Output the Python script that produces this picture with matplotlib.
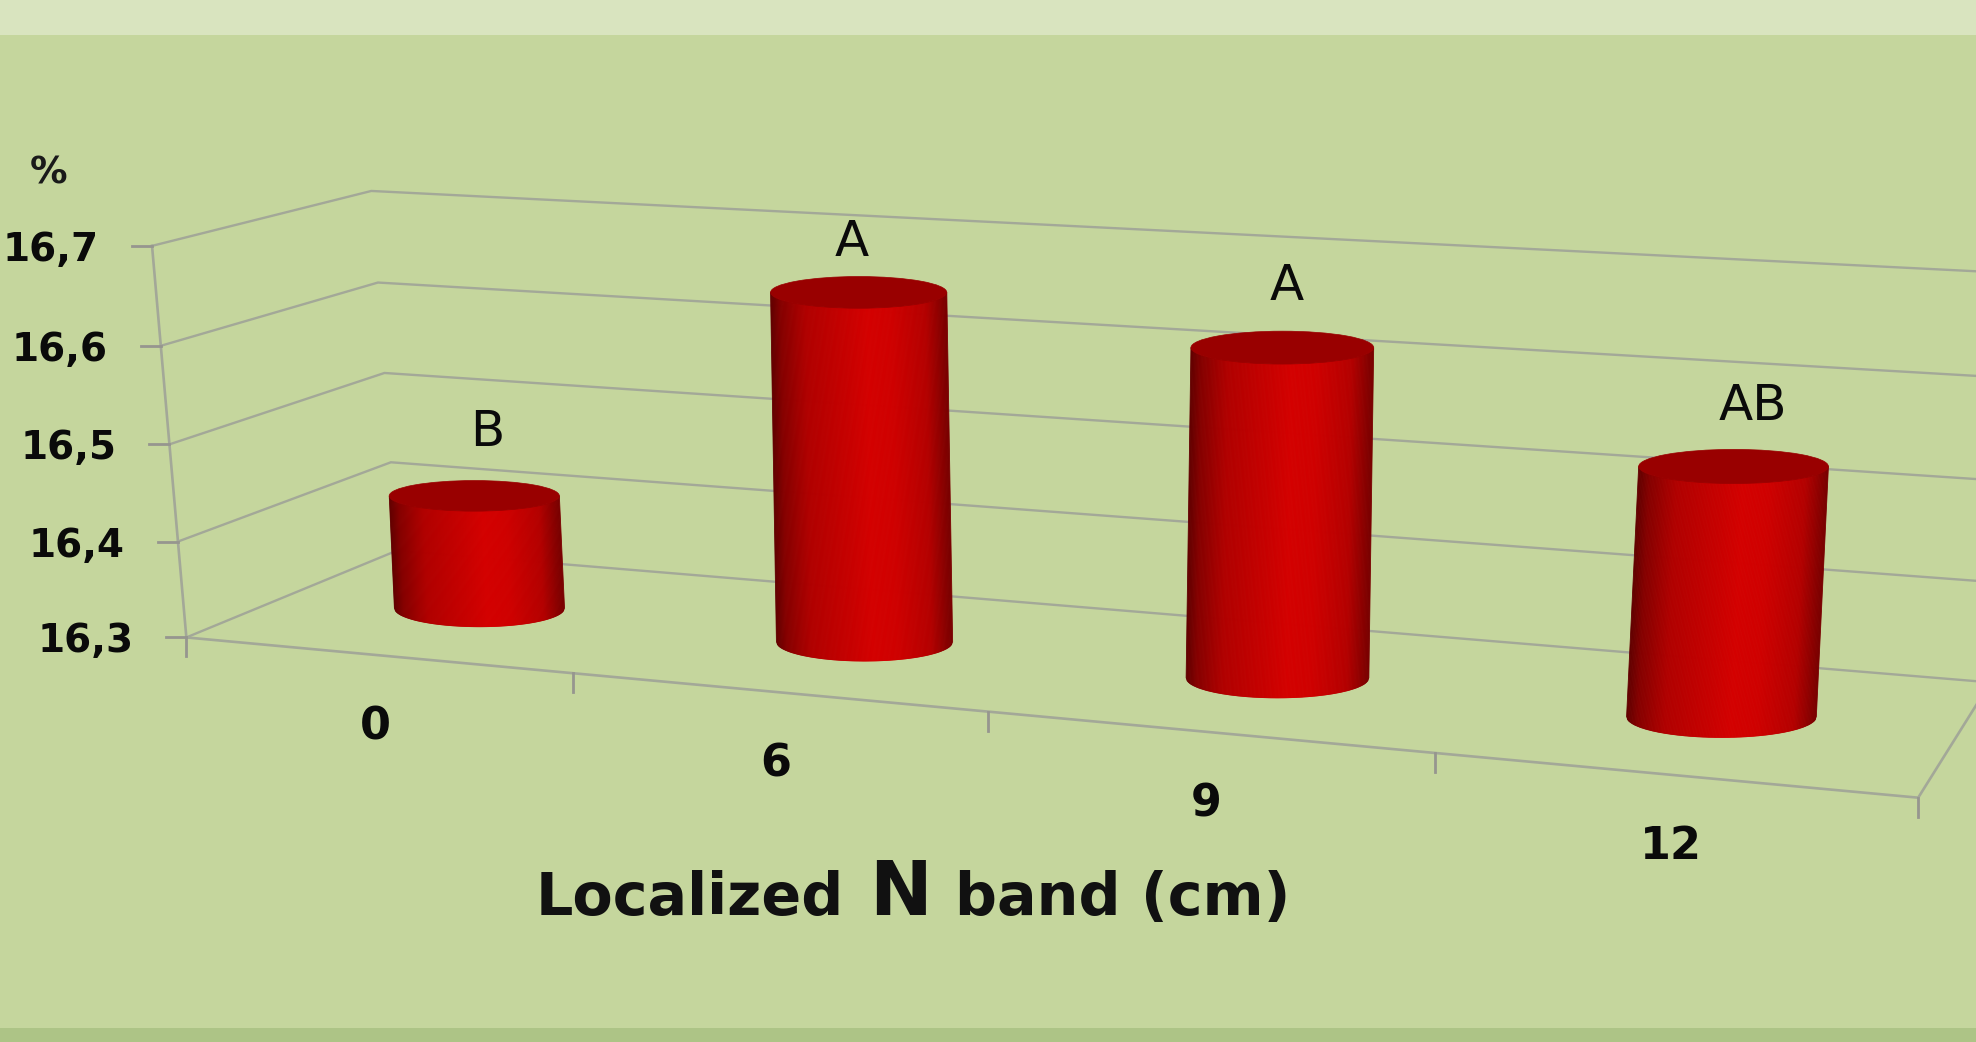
#!/usr/bin/python
# -*- coding:utf-8 -*-
"""
3D style cylinder chart: protein content against localized N band width.
"""

import numpy as np
import matplotlib
matplotlib.use('Agg')
import matplotlib.pyplot as plt
from matplotlib.collections import PolyCollection
from matplotlib.patches import Ellipse

# data
categories = ['0', '6', '9', '12']
values = [16.42, 16.656, 16.626, 16.54]
letters = ['B', 'A', 'A', 'AB']
ytick_values = [16.3, 16.4, 16.5, 16.6, 16.7]
ytick_labels = ['16,3', '16,4', '16,5', '16,6', '16,7']

BG = '#c5d69d'
TOP_BAND = '#d9e4bf'
BOTTOM_BAND = '#adc486'
GRID = '#a3a898'
TICK = '#96968f'

# frame calibration: (category pos, depth, value) -> pixel
frame = [
    (0, 0, 16.3, 184, 637), (0, 0, 16.4, 176, 545), (0, 0, 16.5, 170, 446),
    (0, 0, 16.6, 163, 344), (0, 0, 16.7, 155, 246),
    (0, 1, 16.3, 400, 550), (0, 1, 16.4, 393, 461), (0, 1, 16.5, 385, 373),
    (0, 1, 16.6, 378, 282), (0, 1, 16.7, 366, 191),
    (1, 0, 16.3, 570, 673), (2, 0, 16.3, 987, 711), (3, 0, 16.3, 1437, 752),
    (4, 0, 16.3, 1918, 796),
    (4, 1, 16.3, 1990, 685), (4, 1, 16.4, 1994, 582), (4, 1, 16.5, 1999, 480),
    (4, 1, 16.6, 2003, 377), (4, 1, 16.7, 2008, 274),
]

rows = []
for s, d, v, px, py in frame:
    w = np.array([s, d, v - 16.3, 1.0])
    rows.append(np.concatenate([w, np.zeros(4), -px * w]))
    rows.append(np.concatenate([np.zeros(4), w, -py * w]))
P = np.linalg.svd(np.array(rows))[2][-1].reshape(3, 4)


def project(s, d, v):
    p = P @ np.array([s, d, v - 16.3, 1.0])
    return p[0] / p[2], p[1] / p[2]


fig = plt.figure(figsize=(19.76, 10.42), dpi=100, facecolor=BG)
ax = fig.add_axes([0, 0, 1, 1])
ax.set_xlim(0, 1976)
ax.set_ylim(1042, 0)
ax.axis('off')
ax.axhspan(0, 35, color=TOP_BAND, lw=0)
ax.axhspan(1028, 1042, color=BOTTOM_BAND, lw=0)

# walls
for v in ytick_values:
    pts = [project(0, 0, v), project(0, 1, v), project(4, 1, v)]
    ax.plot(*zip(*pts), color=GRID, lw=1.7, solid_joinstyle='miter', zorder=1)

# floor edges and left axis
ax.plot(*zip(project(0, 0, 16.3), project(4, 0, 16.3), project(4, 1, 16.3)), color=GRID, lw=1.9, zorder=1)
ax.plot(*zip(project(0, 0, 16.3), project(0, 0, 16.7)), color=GRID, lw=1.9, zorder=1)

for v, label in zip(ytick_values, ytick_labels):
    x, y = project(0, 0, v)
    ax.plot([x - 20, x], [y, y], color=TICK, lw=2, zorder=1)
    ax.text(x - 53, y + 4, label, ha='right', va='center', fontsize=28, fontweight='bold', color='#0a0a0a')

for s in range(5):
    x, y = project(s, 0, 16.3)
    ax.plot([x, x], [y, y + 19], color=TICK, lw=2, zorder=1)

ax.text(49, 173, '%', ha='center', va='center', fontsize=27, fontweight='bold', color='#1a1a1a')

# side shading across the cylinder width
shade_t = [0.0, 0.06, 0.2, 0.55, 0.68, 0.88, 1.0]
shade_r = [0x60, 0x85, 0xb0, 0xd4, 0xd0, 0xb4, 0x78]

letter_offset = [(13, -64), (-7, -50), (4, -62), (19, -60)]

for i, v in enumerate(values):
    bx, by = project(i + 0.5, 0.5, 16.3)
    _, ty = project(i + 0.5, 0.5, v)
    # columns fan out slightly from the middle of the plot
    tx = bx + (bx - 1085) * 7.6e-5 * (by - ty)
    half_w = 85 + (bx - 472) * 0.0079
    ry_base = 0.22 * half_w
    ry_top = 0.18 * half_w

    t = np.linspace(0, 1, 161)
    u = 2 * t - 1
    xb = bx + half_w * u
    xt = tx + half_w * u
    yb = by + ry_base * np.sqrt(1 - u ** 2)
    yt = ty + ry_top * np.sqrt(1 - u ** 2)
    quads = []
    colors = []
    for k in range(len(t) - 1):
        quads.append([(xt[k], yt[k]), (xt[k + 1], yt[k + 1]), (xb[k + 1], yb[k + 1]), (xb[k], yb[k])])
        colors.append((np.interp((t[k] + t[k + 1]) / 2, shade_t, shade_r) / 255, 0, 0))
    ax.add_collection(PolyCollection(quads, facecolors=colors, edgecolors=colors, linewidths=0.6, zorder=3))
    ax.add_patch(Ellipse((tx, ty), 2 * half_w, 2 * ry_top, fc='#990000', ec='#990000', lw=0.5, zorder=4))

    ax.text(tx + letter_offset[i][0], ty + letter_offset[i][1], letters[i], ha='center', va='center',
            fontsize=36, color='#0a0a0a', zorder=5)

    fx, fy = project(i + 0.5, 0, 16.3)
    ax.text(fx - 1, fy + 72, categories[i], ha='center', va='center', fontsize=32, fontweight='bold', color='#0a0a0a')

# axis title, with a larger N
ax.text(536, 915, 'Localized', ha='left', va='baseline', fontsize=42.3, fontweight='bold', color='#111111')
ax.text(869, 915, 'N', ha='left', va='baseline', fontsize=54, fontweight='bold', color='#111111')
ax.text(955, 915, 'band (cm)', ha='left', va='baseline', fontsize=42.3, fontweight='bold', color='#111111')

fig.savefig('out.png', dpi=100, facecolor=BG)
